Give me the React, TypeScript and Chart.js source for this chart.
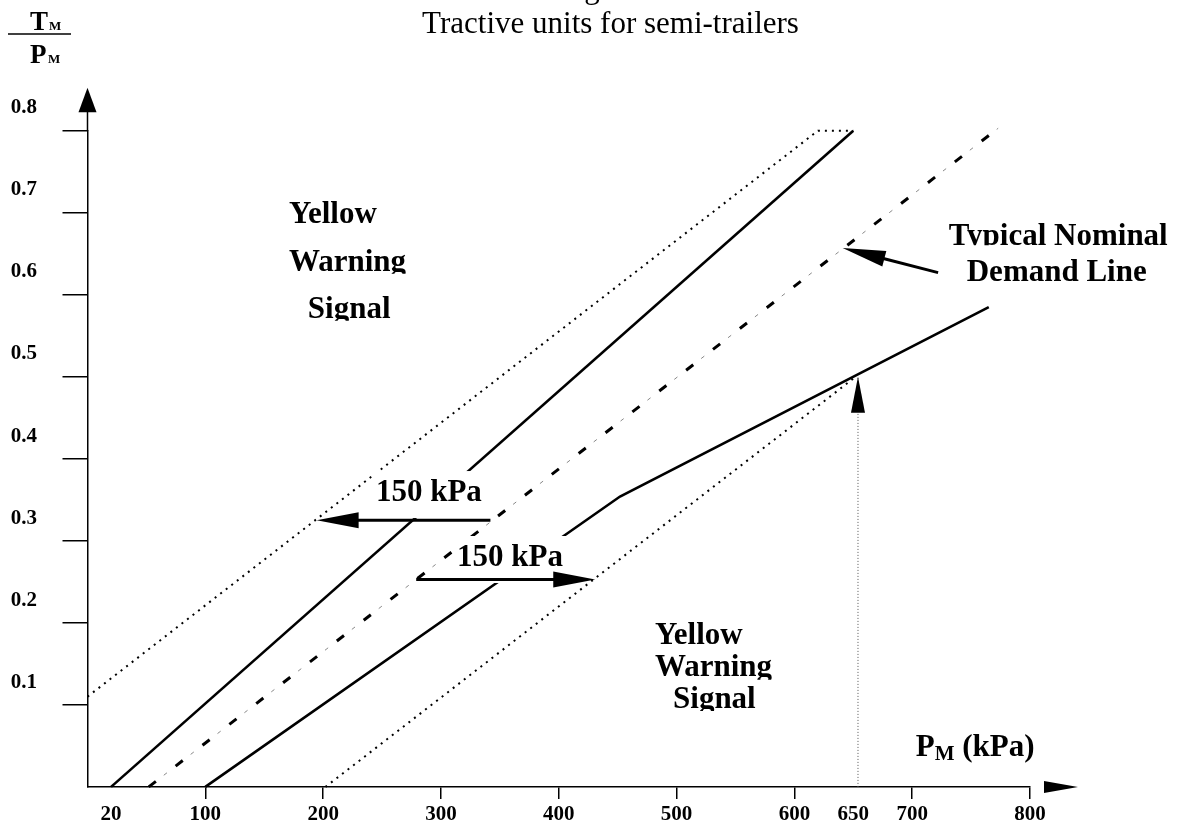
import React, { useEffect, useRef } from "react";
import { Chart, registerables } from "chart.js";

Chart.register(...registerables);

// ---------- data ----------
const xTickValues = [20, 100, 200, 300, 400, 500, 600, 650, 700, 800];
const xTickLabels = ["20", "100", "200", "300", "400", "500", "600", "650", "700", "800"];
const yTickValues = [0.1, 0.2, 0.3, 0.4, 0.5, 0.6, 0.7, 0.8];
const yTickLabels = ["0.1", "0.2", "0.3", "0.4", "0.5", "0.6", "0.7", "0.8"];

// upper yellow-warning boundary (dotted)
const upperDottedX = [0, 620, 650];
const upperDottedY = [0.11, 0.8, 0.8];
// upper limit (solid)
const upperSolidX = [20, 650];
const upperSolidY = [0, 0.8];
// typical nominal demand line (dash)
const nominalX = [52, 773];
const nominalY = [0, 0.803];
// lower limit (solid, bent)
const lowerSolidX = [100, 452, 765];
const lowerSolidY = [0, 0.354, 0.585];
// lower yellow-warning boundary (dotted)
const lowerDottedX = [202, 652];
const lowerDottedY = [0, 0.5];
// 650 kPa marker
const markerX = [654, 654];
const markerY = [0, 0.5];

// 150 kPa offset arrows
const kpaArrowTailX = [342, 279];
const kpaArrowTipX = [194.5, 431];
const kpaArrowY = [0.325, 0.253];
// arrow to the demand line
const demandArrowTail = [722, 0.627];
const demandArrowTip = [641, 0.657];

// texts
const titleText = "Tractive units for semi-trailers";
const hiddenTitleText = "Figure 2";
const warningLines = ["Yellow", "Warning", "Signal"];
const demandLines = ["Typical Nominal", "Demand Line"];
const offsetLabel = "150 kPa";
const xTitleMain = "P";
const xTitleSub = "M";
const xTitleUnit = " (kPa)";
const yTitleTop = "T";
const yTitleBottom = "P";
const yTitleSub = "M";

const FONT = "'Liberation Serif', 'Times New Roman', serif";

const pts = (xs: number[], ys: number[]) => xs.map((x, i) => ({ x, y: ys[i] }));

function drawHead(ctx: CanvasRenderingContext2D, fx: number, fy: number, tx: number, ty: number, len: number, half: number) {
  const a = Math.atan2(ty - fy, tx - fx);
  const bx = tx - Math.cos(a) * len;
  const by = ty - Math.sin(a) * len;
  ctx.beginPath();
  ctx.moveTo(tx, ty);
  ctx.lineTo(bx + Math.sin(a) * half, by - Math.cos(a) * half);
  ctx.lineTo(bx - Math.sin(a) * half, by + Math.cos(a) * half);
  ctx.closePath();
  ctx.fill();
}

function drawArrow(ctx: CanvasRenderingContext2D, fx: number, fy: number, tx: number, ty: number, len: number, half: number, w: number) {
  const a = Math.atan2(ty - fy, tx - fx);
  ctx.lineWidth = w;
  ctx.beginPath();
  ctx.moveTo(fx, fy);
  ctx.lineTo(tx - Math.cos(a) * (len - 2), ty - Math.sin(a) * (len - 2));
  ctx.stroke();
  drawHead(ctx, fx, fy, tx, ty, len, half);
}

function clippedText(ctx: CanvasRenderingContext2D, text: string, x: number, base: number, size: number, clipBelow: number | null) {
  ctx.save();
  if (clipBelow !== null) {
    const w = ctx.measureText(text).width;
    ctx.beginPath();
    ctx.rect(x - 4, base - size * 1.3, w + 8, size * 1.3 + clipBelow);
    ctx.clip();
  }
  ctx.fillText(text, x, base);
  ctx.restore();
}

const annotationPlugin = {
  id: "figureAnnotations",
  afterDatasetsDraw(chart: any) {
    const { ctx, chartArea: ca, scales } = chart;
    const X = (v: number) => scales.x.getPixelForValue(v);
    const Y = (r: number) => scales.y.getPixelForValue(r);
    ctx.save();
    ctx.fillStyle = "#000";
    ctx.strokeStyle = "#000";
    ctx.textAlign = "left";
    ctx.textBaseline = "alphabetic";

    // ----- axis arrows -----
    ctx.lineWidth = 1.5;
    ctx.beginPath();
    ctx.moveTo(ca.left, ca.top);
    ctx.lineTo(ca.left, ca.top - 20);
    ctx.stroke();
    ctx.beginPath();
    ctx.moveTo(ca.left, ca.top - 43);
    ctx.lineTo(ca.left - 9, ca.top - 18.5);
    ctx.lineTo(ca.left + 9, ca.top - 18.5);
    ctx.closePath();
    ctx.fill();
    ctx.beginPath();
    ctx.moveTo(ca.right + 48, ca.bottom);
    ctx.lineTo(ca.right + 14, ca.bottom - 6);
    ctx.lineTo(ca.right + 14, ca.bottom + 6);
    ctx.closePath();
    ctx.fill();

    // ----- title -----
    ctx.font = `31px ${FONT}`;
    ctx.textAlign = "center";
    ctx.fillText(hiddenTitleText, 610.5, -2.5);
    ctx.fillText(titleText, 610.5, 33);
    ctx.textAlign = "left";

    // ----- y axis title (fraction) -----
    ctx.font = `bold 27px ${FONT}`;
    ctx.fillText(yTitleTop, 30, 30);
    ctx.fillText(yTitleBottom, 30, 63);
    ctx.font = `bold 13px ${FONT}`;
    ctx.fillText(yTitleSub, 49, 30);
    ctx.fillText(yTitleSub, 48, 63);
    ctx.lineWidth = 1.5;
    ctx.beginPath();
    ctx.moveTo(8, 34);
    ctx.lineTo(71, 34);
    ctx.stroke();

    // ----- x axis title -----
    ctx.font = `bold 31px ${FONT}`;
    const px0 = X(703);
    const pb = Y(0.038);
    ctx.fillText(xTitleMain, px0, pb);
    const pw = ctx.measureText(xTitleMain).width;
    ctx.font = `bold 21px ${FONT}`;
    ctx.fillText(xTitleSub, px0 + pw, pb + 4);
    const mw = ctx.measureText(xTitleSub).width;
    ctx.font = `bold 31px ${FONT}`;
    ctx.fillText(xTitleUnit, px0 + pw + mw, pb);

    // ----- region labels -----
    ctx.font = `bold 31px ${FONT}`;
    clippedText(ctx, warningLines[0], X(171), Y(0.6877), 31, null);
    clippedText(ctx, warningLines[1], X(171), Y(0.6293), 31, 3);
    clippedText(ctx, warningLines[2], X(187), Y(0.5721), 31, 3);
    clippedText(ctx, warningLines[0], X(481.6), Y(0.174), 31, null);
    clippedText(ctx, warningLines[1], X(481.6), Y(0.1355), 31, 4);
    clippedText(ctx, warningLines[2], X(497), Y(0.0962), 31, 3);
    clippedText(ctx, demandLines[0], X(731), Y(0.661), 31, 0.5);
    clippedText(ctx, demandLines[1], X(746.3), Y(0.6162), 31, null);

    // ----- 150 kPa labels with white boxes -----
    const kpaPos = [
      [244.8, 0.3485],
      [313.6, 0.2693],
    ];
    kpaPos.forEach(([v, r]) => {
      const lx = X(v);
      const lb = Y(r);
      const w = ctx.measureText(offsetLabel).width;
      ctx.fillStyle = "#fff";
      ctx.fillRect(lx - 4, lb - 30, w + 8, 47);
      ctx.fillStyle = "#000";
      ctx.fillText(offsetLabel, lx, lb);
    });

    // ----- arrows -----
    kpaArrowTailX.forEach((tx, i) => {
      drawArrow(ctx, X(tx), Y(kpaArrowY[i]), X(kpaArrowTipX[i]), Y(kpaArrowY[i]), 42, 8, 3);
    });
    drawArrow(ctx, X(demandArrowTail[0]), Y(demandArrowTail[1]), X(demandArrowTip[0]), Y(demandArrowTip[1]), 43, 8, 3);
    drawHead(ctx, X(markerX[0]), Y(markerY[0]), X(markerX[1]), Y(markerY[1]), 36, 7);

    ctx.restore();
  },
};

export default function App() {
  const ref = useRef<HTMLCanvasElement | null>(null);
  useEffect(() => {
    if (!ref.current) return;
    const chart = new Chart(ref.current, {
      type: "scatter",
      data: {
        datasets: [
          {
            data: pts(upperDottedX, upperDottedY),
            borderColor: "#000",
            borderWidth: 2,
            borderDash: [2, 5],
          },
          {
            data: pts(upperSolidX, upperSolidY),
            borderColor: "#000",
            borderWidth: 2.6,
          },
          {
            data: pts(nominalX, nominalY),
            borderColor: "#000",
            borderWidth: 3,
            borderDash: [9, 25],
          },
          {
            data: pts(nominalX, nominalY),
            borderColor: "#888",
            borderWidth: 1,
            borderDash: [4, 30],
            borderDashOffset: 15,
          },
          {
            data: pts(lowerSolidX, lowerSolidY),
            borderColor: "#000",
            borderWidth: 2.6,
          },
          {
            data: pts(lowerDottedX, lowerDottedY),
            borderColor: "#000",
            borderWidth: 2,
            borderDash: [2, 5],
          },
          {
            data: pts(markerX, markerY),
            borderColor: "#555",
            borderWidth: 1,
            borderDash: [1, 2],
          },
        ].map((d) => ({ ...d, showLine: true, pointRadius: 0, tension: 0, fill: false, clip: false as any })),
      },
      options: {
        animation: false,
        responsive: false,
        devicePixelRatio: 1,
        layout: { padding: { left: 0, right: 151, top: 130.7, bottom: 0 } },
        plugins: {
          legend: { display: false },
          tooltip: { enabled: false },
          title: { display: false },
        },
        scales: {
          x: {
            type: "linear",
            min: 0,
            max: 800,
            afterFit: (s: any) => {
              s.height = 37;
            },
            afterBuildTicks: (s: any) => {
              s.ticks = xTickValues.map((v) => ({ value: v }));
            },
            ticks: {
              autoSkip: false,
              maxRotation: 0,
              padding: 3,
              color: "#000",
              font: { family: FONT, size: 21, weight: "bold" },
              callback: (v: any) => xTickLabels[xTickValues.indexOf(Number(v))] ?? "",
            },
            grid: {
              drawOnChartArea: false,
              drawTicks: true,
              tickLength: 12,
              lineWidth: 1.5,
              color: (c: any) =>
                c.tick && (c.tick.value === 20 || c.tick.value === 650) ? "rgba(0,0,0,0)" : "#000",
            },
            border: { display: true, color: "#000", width: 1.5 },
          },
          y: {
            type: "linear",
            min: 0,
            max: 0.8,
            afterFit: (s: any) => {
              s.width = 87.5;
            },
            afterBuildTicks: (s: any) => {
              s.ticks = yTickValues.map((v) => ({ value: v }));
            },
            ticks: {
              autoSkip: false,
              padding: 25.5,
              labelOffset: -22.7,
              color: "#000",
              font: { family: FONT, size: 21, weight: "bold" },
              callback: (v: any) => {
                const i = yTickValues.findIndex((t) => Math.abs(t - Number(v)) < 1e-9);
                return i >= 0 ? yTickLabels[i] : "";
              },
            },
            grid: {
              drawOnChartArea: false,
              drawTicks: true,
              tickLength: 25,
              lineWidth: 1.5,
              color: "#000",
            },
            border: { display: true, color: "#000", width: 1.5 },
          },
        },
      } as any,
      plugins: [annotationPlugin],
    });
    return () => chart.destroy();
  }, []);

  return (
    <div style={{ position: "absolute", left: 0, top: 0, width: 1181, height: 825, background: "#fff" }}>
      <canvas ref={ref} width={1181} height={825} style={{ width: 1181, height: 825, display: "block" }} />
    </div>
  );
}
